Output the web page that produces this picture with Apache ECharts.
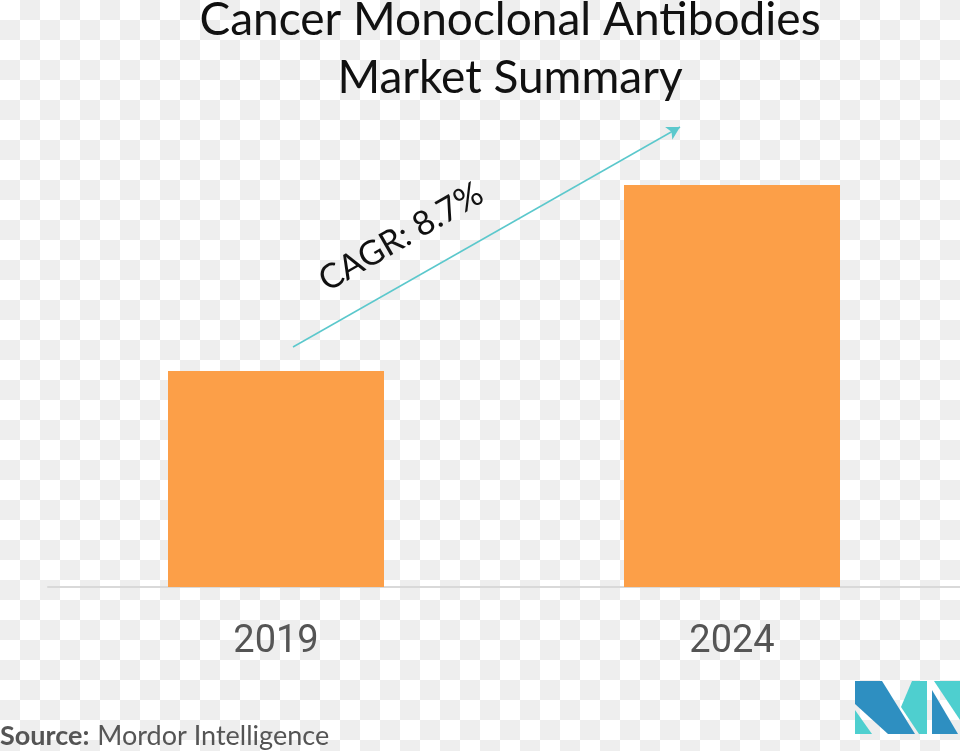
<!DOCTYPE html>
<html>
<head>
<meta charset="utf-8">
<script src="https://cdn.jsdelivr.net/npm/echarts@6/dist/echarts.min.js"></script>
<style>
html,body{margin:0;padding:0;width:960px;height:751px;overflow:hidden;background:#fff;}
#chart{width:960px;height:751px;}
</style>
</head>
<body>
<div id="chart"></div>
<script>
// Data
const categories = ['2019', '2024'];
const marketSize = [216, 402]; // relative bar heights
const yMax = 487;
const cagrLabel = 'CAGR: 8.7%';
const titleText = 'Cancer Monoclonal Antibodies\nMarket Summary';

// checkerboard backdrop (transparent-image look of the reference)
const checker = [];
for (let r = 0; r * 20 < 751; r++) {
  for (let c = 0; c * 20 < 960; c++) {
    if ((r + c) % 2 === 1) {
      checker.push({type: 'rect', silent: true, shape: {x: c * 20, y: r * 20, width: 20, height: 20}, style: {fill: '#eeeeee'}});
    }
  }
}

const chart = echarts.init(document.getElementById('chart'), null, {renderer: 'canvas'});
const option = {
  backgroundColor: '#ffffff',
  animation: false,
  title: {
    text: titleText,
    left: 505,
    textAlign: 'center',
    top: -14,
    textStyle: {fontFamily: 'Lato', fontWeight: 'normal', fontSize: 46, lineHeight: 58, color: '#111', align: 'center'}
  },
  grid: {left: 48, right: 0, top: 100, bottom: 164, containLabel: false},
  xAxis: {
    type: 'category',
    data: categories,
    axisLine: {lineStyle: {color: '#d9d9d9', width: 2}},
    axisTick: {show: false},
    axisLabel: {fontFamily: 'Roboto', fontSize: 38, color: '#555', margin: 36}
  },
  yAxis: {type: 'value', min: 0, max: yMax, show: false, splitLine: {show: false}},
  series: [{
    type: 'bar',
    data: marketSize,
    barWidth: 216,
    itemStyle: {color: '#FC9F48'},
    markLine: {
      silent: true,
      symbol: ['none', 'arrow'],
      symbolSize: [11, 13],
      label: {show: false},
      lineStyle: {color: '#5BC8CC', width: 1.5, type: 'solid'},
      data: [[{x: 293, y: 347}, {x: 680, y: 127}]]
    }
  }],
  graphic: [
    {type: 'group', z: -10, zlevel: 0, silent: true, children: checker},
    {
      type: 'text',
      x: 401, y: 237,
      rotation: Math.PI * 30 / 180,
      style: {text: cagrLabel, font: '34px Lato', fill: '#111', align: 'center', verticalAlign: 'middle'}
    },
    {
      type: 'text',
      left: 0, top: 723,
      style: {
        text: '{b|Source:}{s| }{r|Mordor Intelligence}',
        rich: {
          b: {font: 'bold 27px Lato', fill: '#555'},
          s: {font: '27px Lato', width: 8},
          r: {font: '27px Lato', fill: '#555'}
        }
      }
    },
    {type: 'polygon', shape: {points: [[855,681],[882,681],[915,734],[888,734],[855,704]]}, style: {fill: '#2E8FC1'}},
    {type: 'polygon', shape: {points: [[855,710],[855,734],[872,734]]}, style: {fill: '#4ECFCF'}},
    {type: 'polygon', shape: {points: [[912,681],[927,681],[927,734],[919,734],[901,707]]}, style: {fill: '#4ECFCF'}},
    {type: 'polygon', shape: {points: [[932,690],[932,734],[958,734]]}, style: {fill: '#2E8FC1'}},
    {type: 'polygon', shape: {points: [[934,681],[960,681],[960,720]]}, style: {fill: '#4ECFCF'}}
  ]
};
chart.setOption(option);
</script>
</body>
</html>
